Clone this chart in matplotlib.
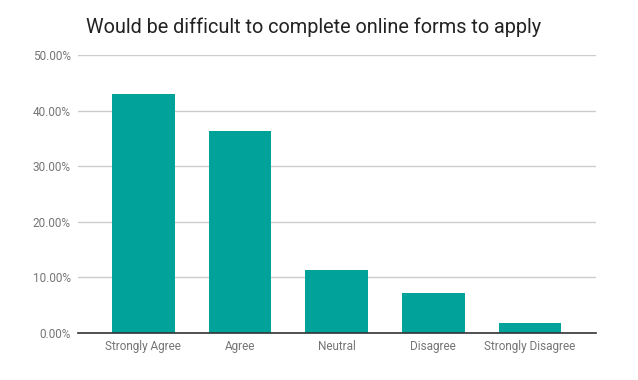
import matplotlib
matplotlib.use("Agg")
import matplotlib.pyplot as plt
from matplotlib.ticker import FuncFormatter, MultipleLocator

categories = ["Strongly Agree", "Agree", "Neutral", "Disagree", "Strongly Disagree"]
values = [43.0, 36.3, 11.3, 7.2, 1.8]
title = "Would be difficult to complete online forms to apply"

plt.rcParams['font.family'] = ['Roboto', 'DejaVu Sans']

fig = plt.figure(figsize=(6.38, 3.8), dpi=100)
ax = fig.add_axes([0.1218, 0.1237, 0.9337 - 0.1218, 0.8553 - 0.1237])

x = list(range(len(categories)))
ax.bar(x, values, width=0.65, color="#00A29A", zorder=3)

ax.set_xlim(-0.68, 4.68)
ax.set_ylim(0, 50)
ax.yaxis.set_major_locator(MultipleLocator(10))
ax.yaxis.set_major_formatter(FuncFormatter(lambda v, p: f"{v:.2f}%"))
ax.grid(axis="y", color="#cccccc", linewidth=1, zorder=0)
ax.set_xticks(x)
ax.set_xticklabels(categories)

for s in ["top", "right", "left"]:
    ax.spines[s].set_visible(False)
ax.spines["bottom"].set_color("#333333")
ax.spines["bottom"].set_linewidth(1.2)
ax.spines["bottom"].set_zorder(4)

ax.tick_params(axis="both", length=0, labelsize=8.5, labelcolor="#757575")
ax.tick_params(axis="y", pad=5)
ax.tick_params(axis="x", pad=5)

fig.text(0.135, 0.927, title, fontsize=14.3, color="#222222", ha="left", va="center")

fig.savefig("out.png", dpi=100)
